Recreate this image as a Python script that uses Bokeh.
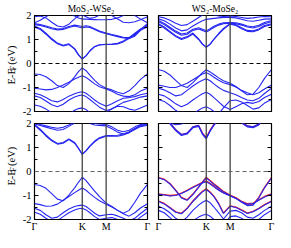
from math import pi
from bokeh.plotting import figure
from bokeh.models import Span, Label, LinearAxis, FixedTicker, Range1d
from bokeh.layouts import column, row
from bokeh.embed import file_html
from bokeh.resources import INLINE

# ---------------- data ----------------
K_PATH = [0, 6, 12, 18, 24, 30, 36, 42, 46, 50, 54, 58, 63, 68, 75, 81, 87, 93, 99, 105, 111, 118.3]
HS_POS = [0, 50, 75, 118.3]
HS_LABELS = ["Γ", "K", "M", "Γ"]
Y_TICKS = [-2, -1, 0, 1, 2]
Y_MINOR = [-1.5, -0.5, 0.5, 1.5]
TITLES = ["MoS₂-WSe₂", "WS₂-MoSe₂"]

# top-left: MoS2-WSe2
tl_c1 = [1.52, 1.42, 1.22, 1.00, 0.82, 0.73, 0.79, 0.60, 0.36, 0.18, 0.32, 0.52, 0.70, 0.77, 0.79, 0.79, 0.81, 0.90, 1.04, 1.22, 1.40, 1.52]
tl_c1b = [1.56, 1.46, 1.26, 1.04, 0.85, 0.76, 0.82, 0.62, 0.37, 0.19, 0.33, 0.53, 0.71, 0.78, 0.80, 0.81, 0.84, 0.94, 1.08, 1.26, 1.44, 1.56]
tl_c2 = [1.62, 1.58, 1.52, 1.45, 1.40, 1.42, 1.50, 1.56, 1.52, 1.48, 1.52, 1.50, 1.42, 1.32, 1.24, 1.18, 1.12, 1.06, 1.04, 1.14, 1.38, 1.62]
tl_c2b = [1.66, 1.62, 1.56, 1.49, 1.44, 1.46, 1.54, 1.60, 1.57, 1.54, 1.57, 1.54, 1.45, 1.35, 1.27, 1.21, 1.15, 1.09, 1.08, 1.18, 1.42, 1.66]
tl_c3 = [1.70, 1.80, 1.95, 2.10, 2.20, 2.20, 2.10, 1.98, 1.90, 1.85, 1.85, 1.84, 1.83, 1.82, 1.82, 1.84, 1.90, 2.00, 2.10, 2.00, 1.85, 1.70]
tl_c4 = [1.95, 1.98, 1.90, 1.72, 1.56, 1.52, 1.64, 1.86, 1.98, 2.02, 1.95, 1.88, 1.92, 2.02, 2.10, 2.00, 1.85, 1.72, 1.70, 1.74, 1.82, 1.95]
tl_v1 = [-0.44, -0.46, -0.55, -0.72, -0.92, -1.00, -0.84, -0.56, -0.34, -0.18, -0.30, -0.48, -0.70, -0.88, -1.03, -1.10, -1.20, -1.26, -1.14, -0.92, -0.66, -0.44]
tl_v2 = [-1.03, -1.06, -1.10, -1.08, -1.00, -0.90, -0.78, -0.65, -0.57, -0.51, -0.58, -0.70, -0.85, -0.97, -1.06, -1.16, -1.28, -1.36, -1.38, -1.30, -1.15, -1.03]
tl_v3 = [-1.24, -1.30, -1.42, -1.55, -1.60, -1.50, -1.36, -1.26, -1.21, -1.18, -1.24, -1.36, -1.52, -1.66, -1.78, -1.68, -1.55, -1.45, -1.42, -1.38, -1.30, -1.24]
tl_v4 = [-1.35, -1.42, -1.56, -1.72, -1.80, -1.70, -1.52, -1.40, -1.34, -1.31, -1.38, -1.50, -1.66, -1.82, -1.96, -1.90, -1.75, -1.62, -1.55, -1.48, -1.40, -1.35]
tl_v5 = [-1.73, -1.78, -1.90, -2.05, -2.20, -2.20, -2.10, -1.95, -1.88, -1.85, -1.92, -2.05, -2.20, -2.20, -2.05, -1.88, -1.78, -1.80, -1.90, -1.95, -1.85, -1.73]

# top-right: WS2-MoSe2
tr_c1 = [1.62, 1.48, 1.30, 1.12, 1.00, 1.08, 1.23, 1.00, 0.80, 0.67, 0.80, 1.00, 1.22, 1.42, 1.64, 1.58, 1.45, 1.34, 1.32, 1.40, 1.54, 1.62]
tr_c1b = [1.66, 1.52, 1.34, 1.16, 1.04, 1.12, 1.27, 1.03, 0.82, 0.68, 0.81, 1.02, 1.25, 1.46, 1.67, 1.62, 1.49, 1.38, 1.36, 1.44, 1.58, 1.66]
tr_c2 = [1.74, 1.62, 1.46, 1.30, 1.18, 1.22, 1.38, 1.44, 1.38, 1.31, 1.40, 1.50, 1.60, 1.66, 1.68, 1.66, 1.60, 1.52, 1.48, 1.54, 1.66, 1.74]
tr_c2b = [1.79, 1.67, 1.51, 1.35, 1.23, 1.27, 1.43, 1.49, 1.43, 1.36, 1.45, 1.55, 1.64, 1.70, 1.71, 1.70, 1.64, 1.56, 1.53, 1.59, 1.71, 1.79]
tr_c3 = [1.86, 1.78, 1.64, 1.48, 1.36, 1.40, 1.56, 1.70, 1.78, 1.84, 1.86, 1.88, 1.90, 1.92, 1.92, 1.90, 1.84, 1.78, 1.76, 1.80, 1.85, 1.86]
tr_c4 = [1.95, 1.90, 1.80, 1.68, 1.58, 1.62, 1.76, 1.92, 2.02, 2.10, 2.08, 2.02, 1.98, 1.96, 1.98, 1.96, 1.92, 1.88, 1.90, 1.94, 1.96, 1.95]
tr_v1 = [-0.25, -0.32, -0.48, -0.70, -0.92, -1.00, -0.80, -0.55, -0.38, -0.26, -0.35, -0.46, -0.60, -0.72, -0.82, -0.96, -1.14, -1.30, -1.28, -1.00, -0.62, -0.25]
tr_v2 = [-0.90, -0.95, -1.00, -1.00, -0.92, -0.82, -0.68, -0.53, -0.44, -0.38, -0.46, -0.57, -0.70, -0.80, -0.88, -0.98, -1.12, -1.22, -1.30, -1.22, -1.06, -0.90]
tr_v3 = [-1.03, -1.10, -1.22, -1.35, -1.30, -1.12, -0.94, -0.78, -0.70, -0.64, -0.72, -0.85, -1.00, -1.12, -1.22, -1.30, -1.42, -1.52, -1.55, -1.45, -1.25, -1.03]
tr_v4 = [-1.28, -1.35, -1.50, -1.68, -1.80, -1.70, -1.52, -1.36, -1.26, -1.20, -1.28, -1.42, -1.60, -1.78, -1.92, -1.80, -1.68, -1.62, -1.66, -1.58, -1.42, -1.28]
tr_v5 = [-1.50, -1.58, -1.75, -1.95, -2.10, -2.20, -2.10, -1.95, -1.85, -1.80, -1.88, -2.00, -2.10, -1.85, -1.55, -1.52, -1.60, -1.75, -1.90, -1.85, -1.65, -1.50]

# bottom-left: MoS2-WSe2 (second stacking)
bl_c1 = [1.93, 1.72, 1.48, 1.28, 1.14, 1.18, 1.33, 1.18, 0.96, 0.71, 0.86, 1.05, 1.24, 1.38, 1.47, 1.47, 1.47, 1.52, 1.62, 1.75, 1.87, 1.93]
bl_c1b = [1.96, 1.76, 1.52, 1.31, 1.17, 1.21, 1.36, 1.21, 0.98, 0.72, 0.87, 1.07, 1.27, 1.41, 1.50, 1.50, 1.51, 1.56, 1.66, 1.79, 1.91, 1.96]
bl_c2 = [1.98, 1.92, 1.85, 1.78, 1.72, 1.75, 1.88, 2.02, 2.12, 2.15, 2.10, 2.00, 1.94, 1.92, 1.90, 1.78, 1.64, 1.56, 1.62, 1.78, 1.92, 1.98]
bl_c3 = [2.00, 1.96, 1.90, 1.84, 1.80, 1.84, 1.94, 2.08, 2.20, 2.25, 2.15, 2.05, 2.00, 1.98, 1.96, 1.86, 1.72, 1.66, 1.72, 1.86, 1.96, 2.00]
bl_v1 = [-0.54, -0.58, -0.70, -0.92, -1.15, -1.22, -0.98, -0.68, -0.45, -0.24, -0.38, -0.58, -0.82, -1.05, -1.32, -1.46, -1.62, -1.74, -1.62, -1.28, -0.90, -0.54]
bl_v2 = [-1.34, -1.38, -1.45, -1.44, -1.36, -1.20, -1.04, -0.88, -0.78, -0.69, -0.78, -0.92, -1.08, -1.22, -1.36, -1.48, -1.62, -1.76, -1.86, -1.72, -1.52, -1.34]
bl_v3 = [-1.53, -1.62, -1.80, -1.95, -1.90, -1.72, -1.56, -1.46, -1.42, -1.40, -1.46, -1.58, -1.74, -1.85, -1.80, -1.78, -1.85, -1.95, -2.05, -1.95, -1.75, -1.53]
bl_v4 = [-1.70, -1.78, -1.95, -2.10, -2.05, -1.88, -1.72, -1.60, -1.55, -1.53, -1.60, -1.72, -1.88, -2.00, -1.95, -1.92, -2.00, -2.10, -2.20, -2.10, -1.90, -1.70]

# bottom-right: WS2-MoSe2 (second stacking), blue and red series
br_c1 = [2.40, 2.25, 1.98, 1.70, 1.50, 1.56, 1.82, 1.88, 1.55, 1.36, 1.68, 1.92, 2.15, 2.30, 2.40, 2.28, 2.02, 1.86, 1.82, 1.94, 2.18, 2.40]
br_c1b = [2.44, 2.29, 2.02, 1.74, 1.54, 1.60, 1.86, 1.92, 1.58, 1.38, 1.70, 1.95, 2.18, 2.33, 2.43, 2.31, 2.05, 1.90, 1.86, 1.98, 2.22, 2.44]
br_c2 = [2.30, 2.15, 2.02, 1.95, 1.98, 2.10, 2.25, 2.30, 2.20, 2.10, 2.20, 2.30, 2.40, 2.45, 2.45, 2.40, 2.30, 2.20, 2.15, 2.20, 2.25, 2.30]
br_v1 = [-0.27, -0.34, -0.52, -0.80, -1.10, -1.20, -0.96, -0.66, -0.45, -0.27, -0.40, -0.54, -0.70, -0.85, -1.00, -1.12, -1.28, -1.42, -1.40, -1.10, -0.68, -0.27]
br_v2 = [-0.95, -0.98, -1.02, -1.00, -0.92, -0.80, -0.67, -0.55, -0.48, -0.43, -0.52, -0.64, -0.78, -0.90, -1.02, -1.12, -1.26, -1.36, -1.34, -1.20, -1.06, -0.95]
br_v3 = [-1.25, -1.35, -1.52, -1.70, -1.76, -1.55, -1.25, -1.00, -0.85, -0.75, -0.88, -1.05, -1.35, -1.75, -1.45, -1.50, -1.62, -1.75, -1.68, -1.55, -1.40, -1.25]
br_v4 = [-1.45, -1.55, -1.72, -1.95, -2.10, -1.90, -1.62, -1.40, -1.28, -1.20, -1.30, -1.48, -1.72, -1.98, -1.65, -1.62, -1.72, -1.90, -1.95, -1.80, -1.62, -1.45]
br_v5 = [-1.62, -1.72, -1.92, -2.15, -2.25, -2.20, -2.05, -1.90, -1.82, -1.78, -1.86, -2.00, -2.20, -2.25, -1.88, -1.85, -1.95, -2.10, -2.20, -2.00, -1.80, -1.62]
br_red_c1 = [2.42, 2.28, 2.02, 1.74, 1.54, 1.60, 1.86, 1.92, 1.60, 1.42, 1.72, 1.96, 2.18, 2.32, 2.42, 2.30, 2.05, 1.90, 1.86, 1.97, 2.20, 2.42]
br_red_v1 = [-0.25, -0.32, -0.50, -0.78, -1.08, -1.18, -0.94, -0.64, -0.43, -0.24, -0.37, -0.51, -0.67, -0.83, -0.98, -1.10, -1.26, -1.40, -1.38, -1.08, -0.66, -0.25]
br_red_v2 = [-0.93, -0.96, -1.00, -0.98, -0.90, -0.78, -0.65, -0.53, -0.45, -0.40, -0.49, -0.61, -0.76, -0.88, -1.00, -1.10, -1.24, -1.34, -1.32, -1.18, -1.04, -0.93]
br_red_v3 = [-1.23, -1.33, -1.50, -1.68, -1.74, -1.53, -1.23, -0.98, -0.82, -0.72, -0.85, -1.03, -1.33, -1.73, -1.43, -1.48, -1.60, -1.73, -1.66, -1.53, -1.38, -1.23]

TL_BANDS = [tl_c1, tl_c1b, tl_c2, tl_c2b, tl_c3, tl_c4, tl_v1, tl_v2, tl_v3, tl_v4, tl_v5]
TR_BANDS = [tr_c1, tr_c1b, tr_c2, tr_c2b, tr_c3, tr_c4, tr_v1, tr_v2, tr_v3, tr_v4, tr_v5]
BL_BANDS = [bl_c1, bl_c1b, bl_c2, bl_c3, bl_v1, bl_v2, bl_v3, bl_v4]
BR_BANDS = [br_c1, br_c1b, br_c2, br_v1, br_v2, br_v3, br_v4, br_v5]
BR_RED = [br_red_c1, br_red_v1, br_red_v2, br_red_v3]

# ---------------- styling / layout ----------------
FONT = "Liberation Serif"
BLUE = "#2626f2"
RED = "#f02020"
YLAB_W = 18


def blank_fig(w, h):
    f = figure(width=w, height=h, x_range=Range1d(0, w), y_range=Range1d(0, h),
               output_backend="svg", toolbar_location=None, tools="",
               x_axis_type=None, y_axis_type=None,
               min_border=0, min_border_left=0, min_border_right=0,
               min_border_top=0, min_border_bottom=0)
    f.outline_line_color = None
    f.xgrid.visible = False
    f.ygrid.visible = False
    f.background_fill_color = "white"
    f.border_fill_color = "white"
    return f


def make_panel(bands, reds, fw, fh, mbl, mbr, mbt, mbb, labels_left, labels_bottom,
               title=None, title_offset=0, zero_color="black"):
    p = figure(frame_width=fw, frame_height=fh,
               x_range=Range1d(0, K_PATH[-1]), y_range=Range1d(-2, 2),
               output_backend="svg", toolbar_location=None, tools="",
               min_border_left=mbl, min_border_right=mbr,
               min_border_top=mbt, min_border_bottom=mbb)
    p.xgrid.visible = False
    p.ygrid.visible = False
    p.background_fill_color = "white"
    p.border_fill_color = "white"
    p.outline_line_color = "black"
    p.outline_line_width = 1.2

    if title:
        p.title.text = title
        p.title.align = "center"
        p.title.offset = title_offset
        p.title.standoff = 3
        p.title.text_font = FONT
        p.title.text_font_size = "9.5px"
        p.title.text_font_style = "normal"
        p.title.text_color = "black"

    ya = p.yaxis[0]
    ya.ticker = FixedTicker(ticks=Y_TICKS, minor_ticks=Y_MINOR)
    ya.major_label_overrides = {t: (str(t) if labels_left else "") for t in Y_TICKS}
    ya.major_tick_in = 4
    ya.major_tick_out = 0
    ya.minor_tick_in = 3
    ya.minor_tick_out = 0
    ya.major_label_standoff = 3 if labels_left else 0
    ya.major_label_text_font = FONT
    ya.major_label_text_font_size = "10.5px"
    ya.major_label_text_color = "black"
    ya.axis_line_color = "black"

    ra = LinearAxis(ticker=FixedTicker(ticks=Y_TICKS, minor_ticks=Y_MINOR),
                    major_label_overrides={t: "" for t in Y_TICKS},
                    major_tick_in=4, major_tick_out=0,
                    minor_tick_in=3, minor_tick_out=0,
                    major_label_standoff=0, axis_line_color="black")
    p.add_layout(ra, "right")

    xa = p.xaxis[0]
    if labels_bottom:
        xa.ticker = FixedTicker(ticks=HS_POS)
        xa.major_label_overrides = {pos: lab for pos, lab in zip(HS_POS, HS_LABELS)}
        xa.major_tick_in = 0
        xa.major_tick_out = 0
        xa.minor_tick_in = 0
        xa.minor_tick_out = 0
        xa.major_label_standoff = 1
        xa.major_label_text_font = FONT
        xa.major_label_text_font_size = "10px"
        xa.major_label_text_color = "black"
        xa.axis_line_color = "black"
    else:
        xa.visible = False

    for pos in HS_POS[1:3]:
        p.add_layout(Span(location=pos, dimension="height", line_color="#444444", line_width=1.3))
    p.add_layout(Span(location=0, dimension="width", line_color=zero_color,
                      line_dash="4 3", line_width=1))

    for band in reds:
        p.line(K_PATH, band, line_color=RED, line_width=1.3)
    for band in bands:
        p.line(K_PATH, band, line_color=BLUE, line_width=1.1)
    return p


def ylabel_fig(h, center_from_bottom):
    f = blank_fig(YLAB_W, h)
    bx = 11
    y0 = center_from_bottom - 21
    f.add_layout(Label(x=bx, y=y0, text="E-E",
                       angle=pi / 2, text_align="left", text_baseline="alphabetic",
                       text_font=FONT, text_font_size="10.5px", text_color="black"))
    f.add_layout(Label(x=bx + 1.5, y=y0 + 17.2, text="F",
                       angle=pi / 2, text_align="left", text_baseline="alphabetic",
                       text_font=FONT, text_font_size="7.5px", text_color="black"))
    f.add_layout(Label(x=bx, y=y0 + 24, text="(eV)",
                       angle=pi / 2, text_align="left", text_baseline="alphabetic",
                       text_font=FONT, text_font_size="10.5px", text_color="black"))
    return f


# panel geometry (canvas 275 x 232)
L_MBL, L_FW, L_MBR = 16, 113, 5
R_MBL, R_FW, R_MBR = 6, 113, 4
T_MBT, T_FH, T_MBB = 15, 96, 6
B_MBT, B_FH, B_MBB = 6, 96, 13

tl = make_panel(TL_BANDS, [], L_FW, T_FH, L_MBL, L_MBR, T_MBT, T_MBB, True, False,
                title=TITLES[0], title_offset=-6)
tr = make_panel(TR_BANDS, [], R_FW, T_FH, R_MBL, R_MBR, T_MBT, T_MBB, False, False,
                title=TITLES[1], title_offset=5)
bl = make_panel(BL_BANDS, [], L_FW, B_FH, L_MBL, L_MBR, B_MBT, B_MBB, True, True, zero_color="#666666")
br = make_panel(BR_BANDS, BR_RED, R_FW, B_FH, R_MBL, R_MBR, B_MBT, B_MBB, False, True, zero_color="#666666")

top_h = T_MBT + T_FH + T_MBB
bot_h = B_MBT + B_FH + B_MBB
yl_top = ylabel_fig(top_h, T_MBB + T_FH / 2)
yl_bot = ylabel_fig(bot_h, B_MBB + B_FH / 2 - 1)

layout = column(row(yl_top, tl, tr), row(yl_bot, bl, br))
open("out.html", "w").write(file_html(layout, INLINE))
